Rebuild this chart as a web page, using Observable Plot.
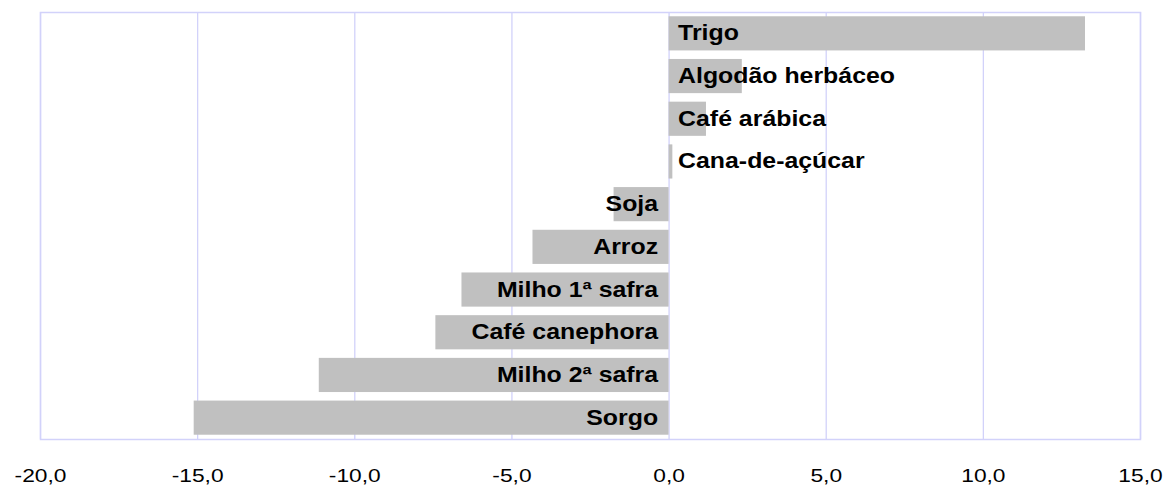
<!DOCTYPE html>
<html>
<head>
<meta charset="utf-8">
<script src="https://cdn.jsdelivr.net/npm/d3@7"></script>
<script src="https://cdn.jsdelivr.net/npm/@observablehq/plot@0.6"></script>
<style>
  html, body { margin: 0; padding: 0; background: white; }
  #chart svg { display: block; overflow: visible; }
</style>
</head>
<body>
<div id="chart"></div>
<script>
const categories = ["Trigo", "Algodão herbáceo", "Café arábica", "Cana-de-açúcar", "Soja", "Arroz", "Milho 1ª safra", "Café canephora", "Milho 2ª safra", "Sorgo"];
const values = [13.25, 2.33, 1.19, 0.12, -1.75, -4.33, -6.59, -7.42, -11.13, -15.11];
const xTicks = [-20, -15, -10, -5, 0, 5, 10, 15];

const data = categories.map((c, i) => ({category: c, value: values[i]}));
const gridColor = "#d2d2fa";
const fmt = d => d.toFixed(1).replace(".", ",");

const chart = Plot.plot({
  width: 1163,
  height: 486,
  marginLeft: 40,
  marginRight: 23,
  marginTop: 12,
  marginBottom: 47,
  style: {fontFamily: "'Liberation Sans', Arial, sans-serif", background: "white"},
  x: {domain: [-20, 15], ticks: xTicks, tickFormat: fmt, label: null},
  y: {domain: categories, paddingInner: 0.2, paddingOuter: 0.1, round: false, axis: null, label: null},
  marks: [
    Plot.gridX(xTicks, {stroke: gridColor, strokeOpacity: 1, strokeWidth: 1.3}),
    Plot.frame({stroke: gridColor, strokeWidth: 1.5}),
    Plot.barX(data, {x: "value", y: "category", fill: "#c0c0c0"}),
    Plot.text(data.filter(d => d.value >= 0), {x: 0, y: "category", text: "category", textAnchor: "start", dx: 9, dy: -0.5, fontSize: 22, fontWeight: "bold", fill: "black"}),
    Plot.text(data.filter(d => d.value < 0), {x: 0, y: "category", text: "category", textAnchor: "end", dx: -11, dy: -0.5, fontSize: 22, fontWeight: "bold", fill: "black"}),
    Plot.axisX({ticks: xTicks, tickFormat: fmt, tickSize: 0, tickPadding: 30, fontSize: 17.5, fill: "black", label: null})
  ]
});

document.getElementById("chart").appendChild(chart);

// Horizontal stretch of glyphs to match the reference rendering
chart.querySelectorAll('g[aria-label="text"] text').forEach(t => {
  const w = t.getComputedTextLength();
  t.setAttribute("textLength", (w * 1.13).toFixed(1));
  t.setAttribute("lengthAdjust", "spacingAndGlyphs");
});
chart.querySelectorAll('g[aria-label="x-axis tick label"] text').forEach(t => {
  const w = t.getComputedTextLength();
  t.setAttribute("textLength", (w * 1.3).toFixed(1));
  t.setAttribute("lengthAdjust", "spacingAndGlyphs");
});
</script>
</body>
</html>
